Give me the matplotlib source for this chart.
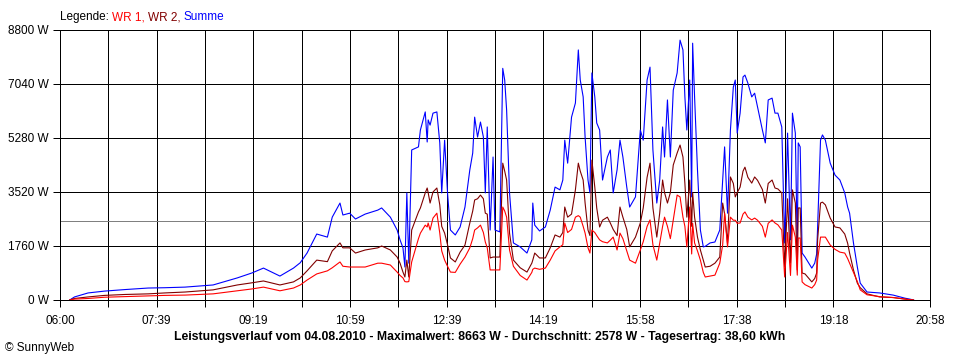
import matplotlib
matplotlib.use("Agg")
import matplotlib.pyplot as plt

plt.rcParams['font.family'] = ['Liberation Sans', 'DejaVu Sans']

# minutes after 06:00
minutes = [10, 15, 29, 46, 67, 91, 108, 129, 158, 183, 198, 210, 227, 241, 248, 255, 265, 276, 281, 289,
           292, 299, 305, 315, 328, 332, 341, 348, 351, 354, 356, 358, 360, 363, 370, 372, 377, 379, 380, 382,
           385, 389, 392, 394, 397, 400, 403, 408, 413, 418, 423, 426, 428, 431, 434, 437, 439, 441, 444, 447,
           449, 454, 457, 459, 461, 464, 468, 475, 482, 487, 488, 490, 495, 501, 506, 511, 516, 519, 521, 524,
           528, 532, 535, 537, 540, 542, 545, 547, 549, 552, 554, 557, 560, 565, 568, 571, 575, 578, 581, 585,
           588, 594, 599, 602, 606, 609, 612, 616, 619, 622, 624, 627, 630, 633, 637, 640, 643, 645, 647, 650,
           652, 653, 655, 658, 661, 664, 666, 671, 676, 681, 684, 686, 689, 692, 695, 697, 699, 702, 705, 707,
           710, 714, 717, 720, 725, 728, 731, 735, 738, 741, 745, 748, 751, 754, 756, 759, 761, 762, 764, 766,
           769, 776, 779, 781, 782, 785, 787, 790, 795, 800, 805, 810, 813, 815, 819, 823, 826, 833, 846, 860,
           872, 877, 881]

wr1 = [0, 30, 50, 90, 110, 130, 150, 160, 200, 300, 360, 420, 300, 390, 490, 650, 850, 950, 1050, 1240,
       1100, 1075, 1075, 1075, 1200, 1200, 1140, 910, 800, 720, 600, 590, 600, 1240, 2000, 2180, 2440, 2380, 2510, 2280,
       2670, 2830, 2180, 1600, 1300, 1100, 910, 900, 1170, 1400, 1700, 2000, 2280, 2350, 2440, 2200, 1890, 1700, 980, 980,
       980, 980, 3030, 2900, 2700, 1630, 1100, 800, 650, 900, 1000, 1040, 1000, 1040, 1300, 1600, 1730, 1800, 2510, 2200,
       2300, 2700, 2750, 2700, 2400, 2180, 1700, 1530, 2280, 2200, 2100, 1960, 1900, 1860, 1950, 2050, 1630, 2180, 2000, 1600,
       1300, 1200, 1630, 1900, 2400, 2610, 1800, 1300, 1860, 2400, 2700, 2400, 2000, 2600, 3420, 3360, 2700, 2400, 1730, 3030,
       1500, 2500, 1860, 1600, 1300, 900, 750, 780, 810, 1200, 1800, 2830, 1730, 2700, 2600, 2600, 2500, 2510, 2800, 2870,
       2700, 2610, 2670, 2600, 2400, 2050, 2500, 2610, 2510, 2450, 2280, 750, 2200, 800, 2440, 2050, 810, 2020, 2020, 590,
       500, 390, 500, 650, 1300, 2050, 2050, 2050, 1790, 1650, 1560, 1530, 1350, 1200, 900, 600, 330, 170, 110, 80,
       30, 10, 0]

wr2 = [0, 50, 100, 150, 180, 200, 230, 260, 330, 490, 560, 620, 490, 590, 720, 950, 1300, 1250, 1600, 1860,
       1700, 1700, 1530, 1630, 1700, 1760, 1630, 1400, 1200, 910, 750, 1300, 750, 2280, 2870, 3000, 3490, 3650, 3500, 3160,
       3520, 3650, 3100, 2400, 2180, 1800, 1370, 1240, 1560, 1790, 2510, 2900, 3260, 3300, 3420, 3300, 2830, 2800, 1370, 1400,
       1400, 1400, 4460, 4200, 3910, 2180, 1300, 1050, 910, 1200, 1300, 1530, 1370, 1370, 1700, 2120, 2050, 2200, 3030, 2700,
       2800, 3590, 4460, 4200, 3910, 3160, 2280, 2100, 4560, 3680, 3000, 2380, 2600, 2700, 2510, 2300, 2100, 3030, 2700, 2300,
       1730, 2050, 2510, 3000, 4000, 4460, 3000, 2050, 2830, 3910, 3500, 3160, 3500, 4400, 4790, 5050, 4660, 3800, 2700, 3910,
       2400, 3500, 2700, 2050, 1630, 1300, 1075, 1100, 1200, 1400, 3160, 2800, 1860, 4010, 3800, 3360, 3500, 3680, 4200, 4330,
       4000, 3810, 4010, 3900, 3600, 3160, 3800, 3910, 3650, 3620, 3490, 1075, 3300, 1200, 3590, 3160, 980, 3000, 3000, 880,
       850, 590, 700, 880, 1960, 3160, 3190, 3100, 2670, 2380, 2350, 2150, 1850, 1530, 980, 550, 400, 200, 100, 80,
       30, 10, 0]

summe = [0, 100, 230, 290, 340, 390, 400, 420, 490, 720, 880, 1040, 780, 1040, 1215, 1530, 2150, 2050, 2700, 3160,
         2770, 2830, 2640, 2800, 2930, 3000, 2700, 2280, 1960, 1700, 1075, 3490, 1200, 4890, 4990, 5540, 6130, 5150, 5870, 5700,
         6090, 6130, 5120, 3490, 5210, 3490, 2280, 2120, 2380, 3030, 4240, 4790, 5960, 5310, 5800, 5310, 3490, 5640, 2280, 4660,
         2280, 2220, 7550, 7170, 6190, 3490, 1860, 1730, 1530, 1960, 3160, 2440, 2250, 2380, 2930, 3680, 3590, 3910, 5210, 4460,
         5960, 6420, 8150, 7170, 6620, 5310, 3910, 3490, 7400, 6620, 5770, 5540, 3910, 4660, 4890, 3490, 4240, 5210, 4660, 3680,
         3030, 3360, 5540, 5210, 7170, 7590, 4890, 3160, 3910, 5640, 4660, 6520, 4660, 6840, 7400, 8470, 8150, 6620, 5540, 7170,
         3360, 8370, 6620, 4240, 2280, 1730, 1750, 1860, 1890, 2280, 3910, 4990, 2830, 5540, 6940, 7170, 5440, 6090, 7270, 7330,
         7070, 6620, 6740, 6290, 5540, 5120, 6520, 6580, 6090, 6090, 5640, 1860, 5440, 1960, 6090, 5440, 1630, 5120, 4990, 1530,
         1400, 1040, 1200, 1500, 2380, 5210, 5380, 5210, 4460, 4070, 3910, 3490, 3030, 2830, 1860, 1075, 550, 260, 230, 160,
         60, 30, 0]

durchschnitt = 2578
tick_labels = ['06:00', '07:39', '09:19', '10:59', '12:39', '14:19', '15:58', '17:38', '19:18', '20:58']
y_labels = ['0 W', '1760 W', '3520 W', '5280 W', '7040 W', '8800 W']
title = ('Leistungsverlauf vom 04.08.2010 - Maximalwert: 8663 W - Durchschnitt: 2578 W '
         '- Tagesertrag: 38,60 kWh')

x_end = 898
n_grid = 18
px = 0.72  # one pixel at 100 dpi

fig = plt.figure(figsize=(9.6, 3.6), dpi=100)
ax = fig.add_axes([60 / 960, 60 / 360, 870 / 960, 270 / 360])

# grid
for i in range(n_grid + 1):
    ax.axvline(i * x_end / n_grid, color='black', lw=px, antialiased=False, zorder=1)
for k in range(6):
    ax.axhline(k * 1760, color='black', lw=px, antialiased=False, zorder=1)
ax.axhline(durchschnitt, color='#808080', lw=px, antialiased=False, zorder=1)

ax.plot(minutes, summe, color='#0000FF', lw=0.8, zorder=3)
ax.plot(minutes, wr2, color='#800000', lw=0.8, zorder=4)
ax.plot(minutes, wr1, color='#FF0000', lw=0.8, zorder=5)

ax.set_xlim(0, x_end)
ax.set_ylim(0, 8800)

ax.set_xticks([i * x_end / n_grid for i in range(n_grid + 1)])
ax.set_xticklabels([tick_labels[i // 2] if i % 2 == 0 else '' for i in range(n_grid + 1)])
ax.set_yticks([k * 1760 for k in range(6)])
ax.set_yticklabels(y_labels)
ax.tick_params(axis='both', direction='out', length=5, width=px, color='black', labelsize=8.5, pad=3)
ax.tick_params(axis='x', pad=6)
for s in ax.spines.values():
    s.set_linewidth(px)
    s.set_color('black')

# legend as coloured text pieces
t = fig.text(60 / 960, 1 - 17 / 360, 'Legende: ', fontsize=8.5, va='center', color='black')
for txt, col in [('WR 1, ', '#FF0000'), ('WR 2, ', '#800000'), ('Summe', '#0000FF')]:
    t = ax.annotate(txt, xy=(1, 0), xycoords=t, va='bottom', ha='left', fontsize=8.5, color=col)

fig.text(480 / 960, 1 - 337 / 360, title, ha='center', va='center', fontsize=8.8, fontweight='bold')
fig.text(5 / 960, 1 - 348 / 360, '\u00a9 SunnyWeb', ha='left', va='center', fontsize=8.5)

fig.savefig('out.png', dpi=100)
